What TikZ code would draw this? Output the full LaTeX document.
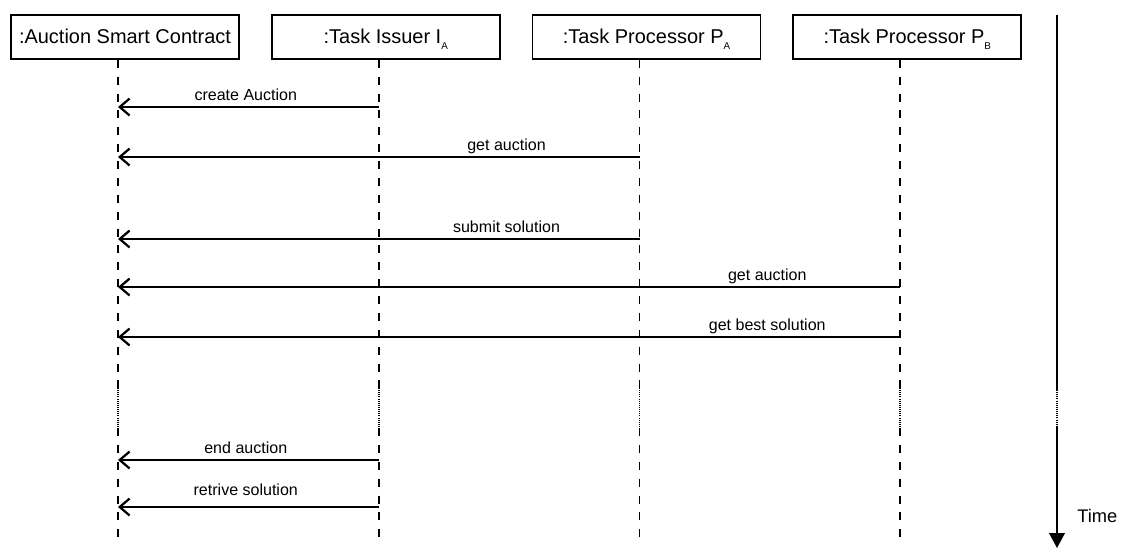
\documentclass[tikz,border=0pt]{standalone}
\usepackage{fontspec}
\setmainfont{Liberation Sans}
\usepackage{tikz}
\usetikzlibrary{positioning}
\usetikzlibrary{calc}
\usetikzlibrary{arrows.meta}

% small index set below the baseline
\newcommand{\lowidx}[1]{\raisebox{-4.3pt}{\fontsize{7}{7}\selectfont #1}}

\tikzset{
  lifebox/.style={draw, line width=1.2pt, minimum width=5.7cm, minimum height=1.1cm, inner sep=0pt,
    font=\fontsize{14.2}{16}\selectfont, text height=10pt, text depth=1.4pt},
  lifeline/.style={line width=1.2pt, dash pattern=on 5.7pt off 6.3pt},
  gapline/.style={line width=1.2pt, dash pattern=on 0.6pt off 0.9pt},
  msg/.style={line width=1.6pt, -{Straight Barb[length=7pt,width=12pt]}},
  msglabel/.style={anchor=base, inner sep=0pt, yshift=4.3pt, font=\fontsize{11.4}{13}\selectfont},
}

\begin{document}
\begin{tikzpicture}[x=0.025cm, y=-0.025cm]
\useasboundingbox (0,0) rectangle (1121,549);

% Participants
\node[lifebox] (asc) at (125,37) {:Auction Smart Contract};
\node[lifebox, right=0.775cm of asc] (issuer) {:Task Issuer I\lowidx{A}};
\node[lifebox, right=0.775cm of issuer] (procA) {:Task Processor P\lowidx{A}};
\node[lifebox, right=0.775cm of procA] (procB) {:Task Processor P\lowidx{B}};

% Lifelines with a gap in the middle
\foreach \n in {asc,issuer,procA,procB}
{
    \coordinate (\n-l) at ($(\n.south)+(-7,0)$);
    \draw[lifeline] (\n-l) -- (\n-l |- 0,388);
    \draw[gapline] (\n-l |- 0,388) -- (\n-l |- 0,428);
    \draw[lifeline] (\n-l |- 0,428) -- (\n-l |- 0,545);
}

% Messages
\draw[msg] (issuer-l |- 0,107) -- (asc-l |- 0,107) node[msglabel, pos=0.51] {create Auction};
\draw[msg] (procA-l |- 0,157) -- (asc-l |- 0,157) node[msglabel, pos=0.255] {get auction};
\draw[msg] (procA-l |- 0,239) -- (asc-l |- 0,239) node[msglabel, pos=0.255] {submit solution};
\draw[msg] (procB-l |- 0,287) -- (asc-l |- 0,287) node[msglabel, pos=0.17] {get auction};
\draw[msg] (procB-l |- 0,337) -- (asc-l |- 0,337) node[msglabel, pos=0.17] {get best solution};
\draw[msg] (issuer-l |- 0,460) -- (asc-l |- 0,460) node[msglabel, pos=0.51] {end auction};
\draw[msg] (issuer-l |- 0,507) -- (asc-l |- 0,507) node[msglabel, pos=0.51, yshift=4pt] {retrive solution};

% Time axis
\coordinate (t-top) at (1057,15);
\coordinate (t-end) at (1057,548);
\draw[line width=1.2pt] (t-top) -- (t-top |- 0,390);
\draw[gapline] (t-top |- 0,390) -- (t-top |- 0,427);
\draw[line width=1.2pt, -{Triangle[length=10.5pt,width=11pt]}] (t-top |- 0,427) -- (t-end);
\node[anchor=base west, inner sep=0pt, font=\fontsize{13}{15}\selectfont] (time) at (1077,522) {Time};
\end{tikzpicture}
\end{document}
